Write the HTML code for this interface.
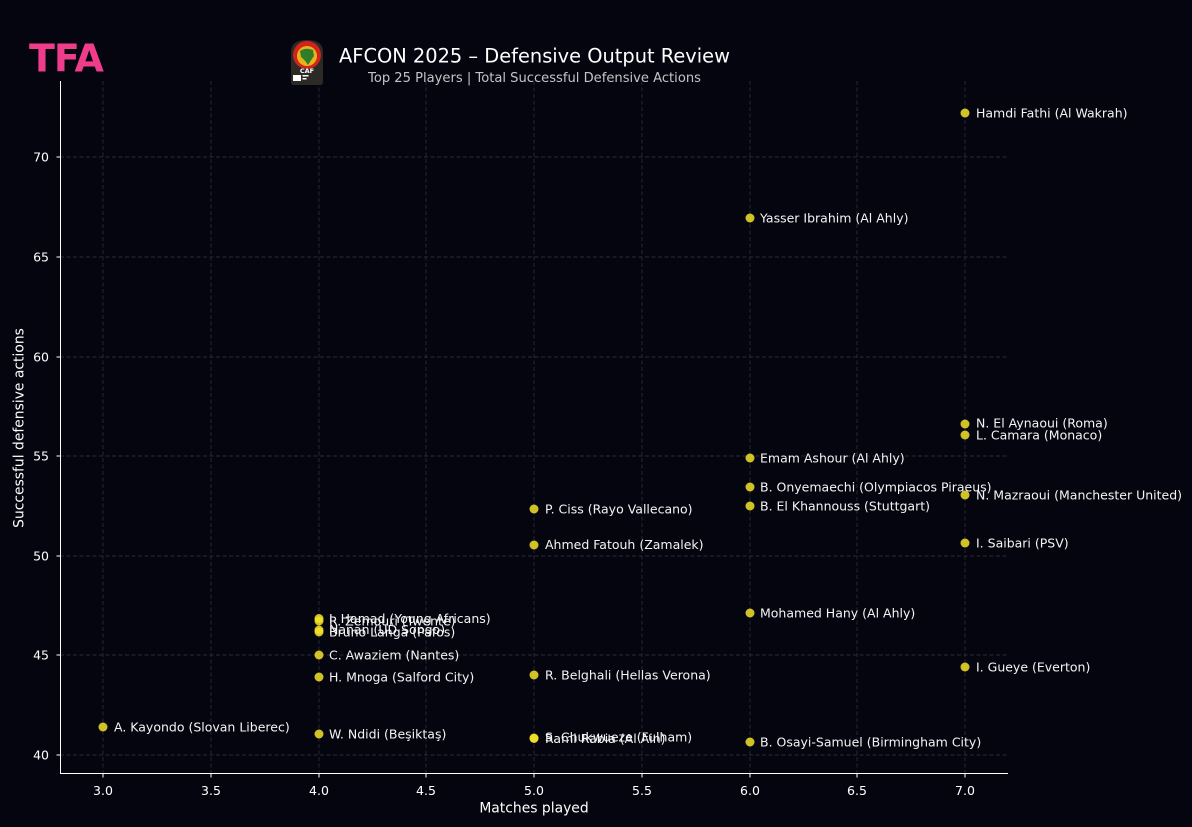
<!DOCTYPE html>
<html><head><meta charset="utf-8"><style>
html,body{margin:0;padding:0;background:#05050f;}
svg{display:block;}
text{font-family:"DejaVu Sans","Liberation Sans",sans-serif;}
</style></head><body>
<svg width="1192" height="827" viewBox="0 0 1192 827" xmlns="http://www.w3.org/2000/svg">
<rect width="1192" height="827" fill="#05050f"/>
<!-- grid -->
<g stroke="#2a2935" stroke-width="0.9" stroke-dasharray="4,2.5">
<line x1="103" y1="81" x2="103" y2="773"/>
<line x1="211" y1="81" x2="211" y2="773"/>
<line x1="319" y1="81" x2="319" y2="773"/>
<line x1="426" y1="81" x2="426" y2="773"/>
<line x1="534" y1="81" x2="534" y2="773"/>
<line x1="642" y1="81" x2="642" y2="773"/>
<line x1="750" y1="81" x2="750" y2="773"/>
<line x1="857" y1="81" x2="857" y2="773"/>
<line x1="965" y1="81" x2="965" y2="773"/>
<line x1="60" y1="157" x2="1008" y2="157"/>
<line x1="60" y1="257" x2="1008" y2="257"/>
<line x1="60" y1="357" x2="1008" y2="357"/>
<line x1="60" y1="456" x2="1008" y2="456"/>
<line x1="60" y1="556" x2="1008" y2="556"/>
<line x1="60" y1="655" x2="1008" y2="655"/>
<line x1="60" y1="755" x2="1008" y2="755"/>
</g>
<!-- spines -->
<g stroke="#ffffff" stroke-width="1">
<line x1="60.5" y1="81" x2="60.5" y2="774"/>
<line x1="60" y1="773.5" x2="1008" y2="773.5"/>
<line x1="56.5" y1="157" x2="60" y2="157"/>
<line x1="56.5" y1="257" x2="60" y2="257"/>
<line x1="56.5" y1="357" x2="60" y2="357"/>
<line x1="56.5" y1="456" x2="60" y2="456"/>
<line x1="56.5" y1="556" x2="60" y2="556"/>
<line x1="56.5" y1="655" x2="60" y2="655"/>
<line x1="56.5" y1="755" x2="60" y2="755"/>
<line x1="103" y1="774" x2="103" y2="777.5"/>
<line x1="211" y1="774" x2="211" y2="777.5"/>
<line x1="319" y1="774" x2="319" y2="777.5"/>
<line x1="426" y1="774" x2="426" y2="777.5"/>
<line x1="534" y1="774" x2="534" y2="777.5"/>
<line x1="642" y1="774" x2="642" y2="777.5"/>
<line x1="750" y1="774" x2="750" y2="777.5"/>
<line x1="857" y1="774" x2="857" y2="777.5"/>
<line x1="965" y1="774" x2="965" y2="777.5"/>
</g>
<g fill="#ffffff" font-size="12.5" text-anchor="end">
<text x="49" y="161.5">70</text>
<text x="49" y="261.5">65</text>
<text x="49" y="361.5">60</text>
<text x="49" y="460.5">55</text>
<text x="49" y="560.5">50</text>
<text x="49" y="659.5">45</text>
<text x="49" y="759.5">40</text>
</g>
<g fill="#ffffff" font-size="12.5" text-anchor="middle">
<text x="103" y="795">3.0</text>
<text x="211" y="795">3.5</text>
<text x="319" y="795">4.0</text>
<text x="426" y="795">4.5</text>
<text x="534" y="795">5.0</text>
<text x="642" y="795">5.5</text>
<text x="750" y="795">6.0</text>
<text x="857" y="795">6.5</text>
<text x="965" y="795">7.0</text>
</g>
<text x="534" y="812.5" fill="#ffffff" font-size="13.9" text-anchor="middle">Matches played</text>
<text transform="translate(23.5,428) rotate(-90)" fill="#ffffff" font-size="13.9" text-anchor="middle">Successful defensive actions</text>
<!-- title -->
<text x="534.5" y="62.5" fill="#ffffff" font-size="19.4" text-anchor="middle">AFCON 2025 – Defensive Output Review</text>
<text x="534.5" y="82" fill="#c4c4c8" font-size="13.1" text-anchor="middle">Top 25 Players | Total Successful Defensive Actions</text>
<!-- TFA logo -->
<text x="29" y="71.5" fill="#ef3d8b" font-family="Liberation Sans, sans-serif" font-weight="bold" font-size="38" letter-spacing="-1">TFA</text>
<!-- CAF badge -->
<g>
<path d="M291,52 Q291,40 307,40 Q323,40 323,52 L323,82 Q323,85 320,85 L294,85 Q291,85 291,82 Z" fill="#2b2a26"/>
<circle cx="307" cy="55" r="14" fill="#d0231c"/>
<circle cx="307" cy="56" r="10" fill="#e8b21a"/>
<path d="M300,51 Q306,47 313,50 L314,56 Q311,60 308,65 Q305,60 301,57 Z" fill="#2f7d2a"/>
<text x="307" y="73" fill="#ffffff" font-size="6.5" text-anchor="middle" font-weight="bold">CAF</text>
<rect x="293" y="75" width="8" height="6" fill="#ffffff"/>
<rect x="302.5" y="75" width="6" height="1.5" fill="#ffffff"/>
<rect x="302.5" y="78" width="4" height="1.5" fill="#ffffff"/>
</g>
<!-- points -->
<g fill="#f5e32a" fill-opacity="0.85">
<circle cx="965" cy="113" r="4.5"/>
<circle cx="750" cy="218" r="4.5"/>
<circle cx="965" cy="424" r="4.5"/>
<circle cx="965" cy="435" r="4.5"/>
<circle cx="750" cy="458" r="4.5"/>
<circle cx="750" cy="487" r="4.5"/>
<circle cx="965" cy="495" r="4.5"/>
<circle cx="750" cy="506" r="4.5"/>
<circle cx="534" cy="509" r="4.5"/>
<circle cx="534" cy="545" r="4.5"/>
<circle cx="965" cy="543" r="4.5"/>
<circle cx="750" cy="613" r="4.5"/>
<circle cx="319" cy="618.5" r="4.5"/>
<circle cx="319" cy="621" r="4.5"/>
<circle cx="319" cy="630" r="4.5"/>
<circle cx="319" cy="632" r="4.5"/>
<circle cx="319" cy="655" r="4.5"/>
<circle cx="965" cy="667" r="4.5"/>
<circle cx="534" cy="675" r="4.5"/>
<circle cx="319" cy="677" r="4.5"/>
<circle cx="103" cy="727" r="4.5"/>
<circle cx="319" cy="734" r="4.5"/>
<circle cx="534" cy="738" r="4.5"/>
<circle cx="534" cy="738.5" r="4.5"/>
<circle cx="750" cy="742" r="4.5"/>
</g>
<!-- labels -->
<g fill="#f4f4f4" font-size="12.5">
<text x="976" y="117.5">Hamdi Fathi (Al Wakrah)</text>
<text x="760" y="222.5">Yasser Ibrahim (Al Ahly)</text>
<text x="976" y="427.5">N. El Aynaoui (Roma)</text>
<text x="976" y="439.5">L. Camara (Monaco)</text>
<text x="760" y="462.5">Emam Ashour (Al Ahly)</text>
<text x="760" y="491.5">B. Onyemaechi (Olympiacos Piraeus)</text>
<text x="976" y="499.5">N. Mazraoui (Manchester United)</text>
<text x="760" y="510.5">B. El Khannouss (Stuttgart)</text>
<text x="545" y="513.5">P. Ciss (Rayo Vallecano)</text>
<text x="545" y="549">Ahmed Fatouh (Zamalek)</text>
<text x="976" y="547.5">I. Saibari (PSV)</text>
<text x="760" y="617.5">Mohamed Hany (Al Ahly)</text>
<text x="329" y="623">I. Hamad (Young Africans)</text>
<text x="329" y="625.5">R. Zemouri (Twente)</text>
<text x="329" y="634">Nanan (UD Songo)</text>
<text x="329" y="636.5">Bruno Langa (Pafos)</text>
<text x="329" y="659.5">C. Awaziem (Nantes)</text>
<text x="976" y="671.5">I. Gueye (Everton)</text>
<text x="545" y="679.5">R. Belghali (Hellas Verona)</text>
<text x="329" y="681.5">H. Mnoga (Salford City)</text>
<text x="114" y="731.5">A. Kayondo (Slovan Liberec)</text>
<text x="329" y="738.5">W. Ndidi (Beşiktaş)</text>
<text x="545" y="741.5">S. Chukwueze (Fulham)</text>
<text x="545" y="743">Rami Rabia (Al Ain)</text>
<text x="760" y="746.5">B. Osayi-Samuel (Birmingham City)</text>
</g>
</svg>
</body></html>
